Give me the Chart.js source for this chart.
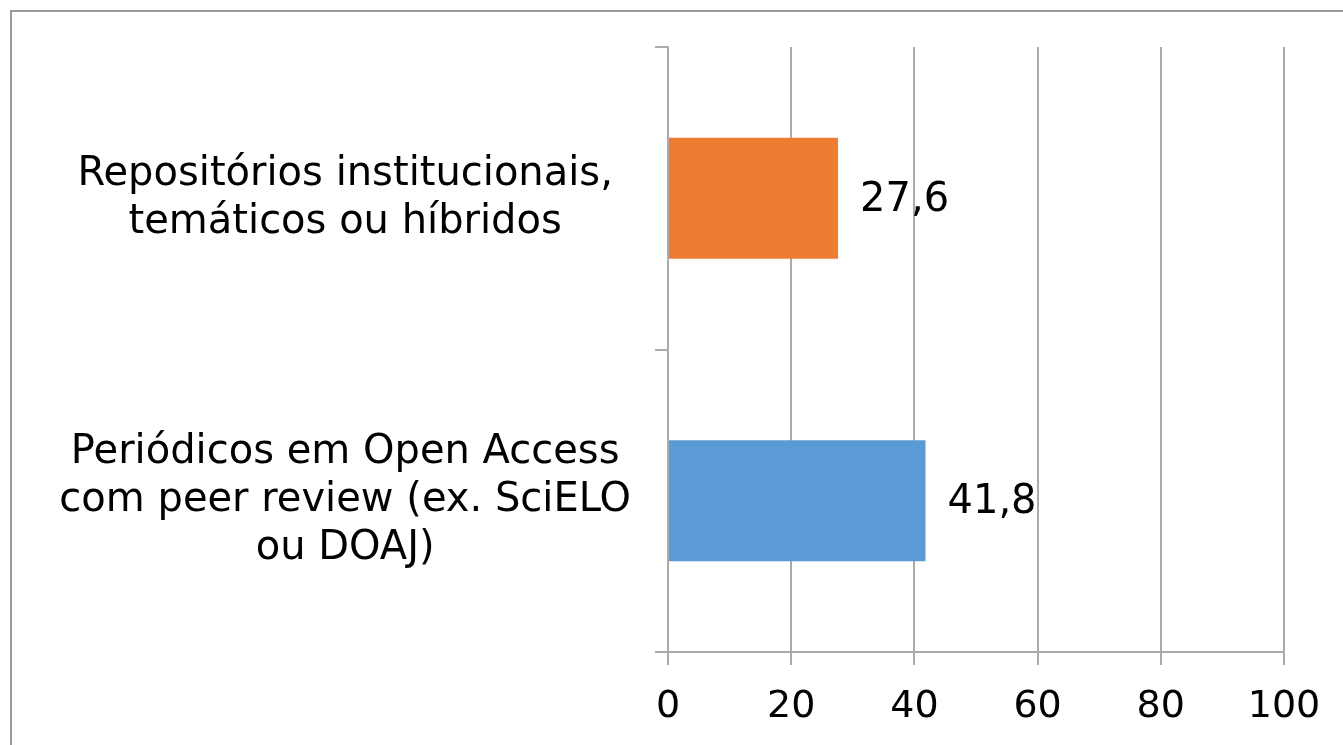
<!DOCTYPE html>
<html>
<head>
<meta charset="utf-8">
<script src="https://cdn.jsdelivr.net/npm/chart.js@4/dist/chart.umd.min.js"></script>
<style>
    html, body { margin: 0; padding: 0; background: #fff; overflow: hidden; }
    #frame { position: absolute; left: 10px; top: 10px; width: 1400px; height: 800px; border: 2px solid #9a9a9a; }
    #chart { position: absolute; left: 0; top: 0; }
</style>
</head>
<body>
<div id="frame"></div>
<canvas id="chart" width="1343" height="745"></canvas>
<script>
const categories = [
    ['Repositórios institucionais,', 'temáticos ou híbridos'],
    ['Periódicos em Open Access', 'com peer review (ex. SciELO', 'ou DOAJ)']
];
const values = [27.6, 41.8];
const barColors = ['#ED7D31', '#5B9BD5'];
const xTicks = [0, 20, 40, 60, 80, 100];

const FONT = '"DejaVu Sans", Verdana, sans-serif';
const GRID = '#ababab';

// value labels next to the bar ends, decimal comma
const valueLabels = {
    id: 'valueLabels',
    afterDatasetsDraw (chart) {
        const ctx = chart.ctx;
        const meta = chart.getDatasetMeta(0);
        ctx.save();
        ctx.font = `40px ${FONT}`;
        ctx.fillStyle = '#000';
        ctx.textAlign = 'left';
        ctx.textBaseline = 'middle';
        meta.data.forEach((bar, i) => {
            ctx.fillText(values[i].toFixed(1).replace('.', ','), bar.x + 22, bar.y + 2);
        });
        ctx.restore();
    }
};

new Chart(document.getElementById('chart'), {
    type: 'bar',
    data: {
        labels: categories,
        datasets: [{
            data: values,
            backgroundColor: barColors,
            barPercentage: 0.4,
            categoryPercentage: 1
        }]
    },
    options: {
        indexAxis: 'y',
        responsive: false,
        animation: false,
        layout: { padding: { top: 47, right: 59, bottom: 0, left: 0 } },
        plugins: {
            legend: { display: false },
            tooltip: { enabled: false }
        },
        scales: {
            x: {
                min: 0,
                max: 100,
                afterBuildTicks: (scale) => { scale.ticks = xTicks.map(v => ({ value: v })); },
                afterFit: (scale) => { scale.height = 93; },
                border: { color: GRID, width: 2 },
                grid: { color: GRID, lineWidth: 2, tickLength: 13 },
                ticks: {
                    color: '#000',
                    padding: 19,
                    maxRotation: 0,
                    font: { family: FONT, size: 38 }
                }
            },
            y: {
                afterFit: (scale) => {
                    scale.width = 668;
                    scale.paddingTop = 0;
                    scale.paddingBottom = 0;
                },
                border: { color: GRID, width: 2 },
                grid: { color: GRID, lineWidth: 2, tickLength: 13, drawOnChartArea: false },
                ticks: {
                    color: '#000',
                    padding: 24,
                    crossAlign: 'center',
                    font: { family: FONT, size: 40, lineHeight: 1.2 }
                }
            }
        }
    },
    plugins: [valueLabels]
});
</script>
</body>
</html>
